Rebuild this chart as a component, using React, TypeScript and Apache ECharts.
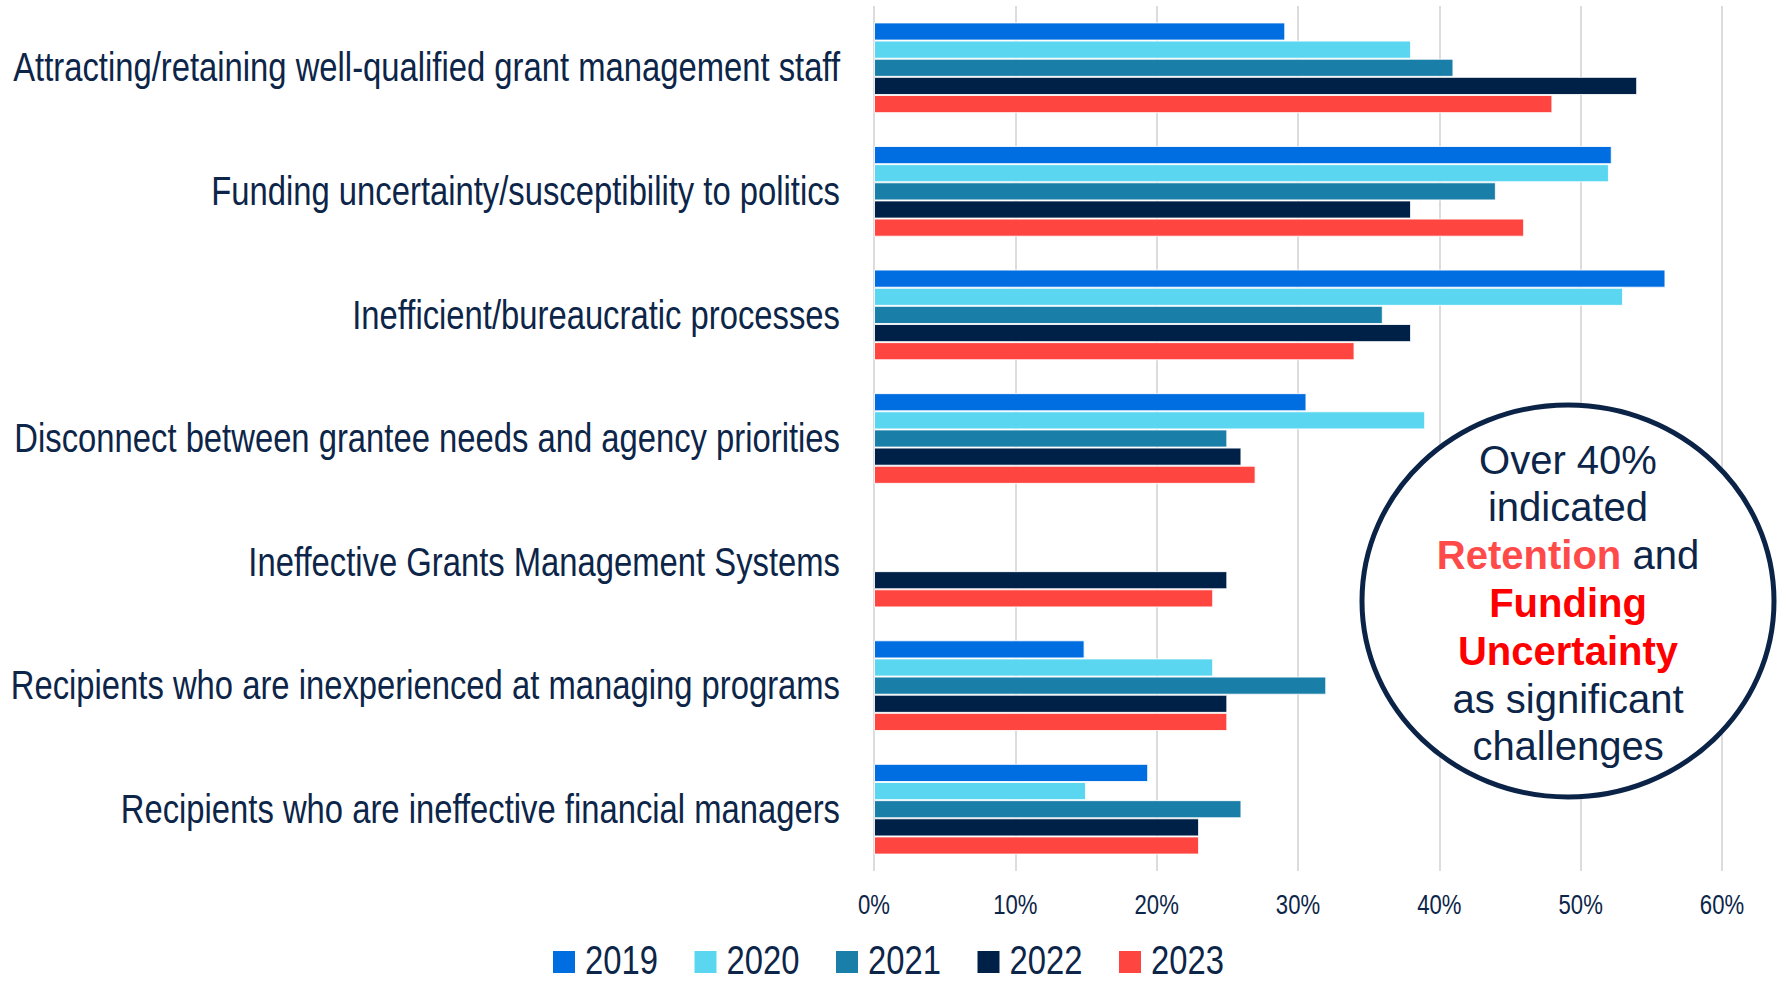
import React, { useEffect, useRef } from "react";
import * as echarts from "echarts";

const categories = [
  "Attracting/retaining well-qualified grant management staff",
  "Funding uncertainty/susceptibility to politics",
  "Inefficient/bureaucratic processes",
  "Disconnect between grantee needs and agency priorities",
  "Ineffective Grants Management Systems",
  "Recipients who are inexperienced at managing programs",
  "Recipients who are ineffective financial managers",
];

const years = ["2019", "2020", "2021", "2022", "2023"];

const v2019 = [29.1, 52.2, 56, 30.6, null, 14.9, 19.4];
const v2020 = [38, 52, 53, 39, null, 24, 15];
const v2021 = [41, 44, 36, 25, null, 32, 26];
const v2022 = [54, 38, 38, 26, 25, 25, 23];
const v2023 = [48, 46, 34, 27, 24, 25, 23];

const seriesValues = [v2019, v2020, v2021, v2022, v2023];
const colors = ["#006ee0", "#5bd6f0", "#1a7fa8", "#002147", "#ff4540"];

const xTicks = [0, 10, 20, 30, 40, 50, 60];
const xTickLabels = ["0%", "10%", "20%", "30%", "40%", "50%", "60%"];

const NAVY = "#0c2548";
const SANS = '"Liberation Sans", Arial, sans-serif';
const NARROW_SCALE = 0.82; // emulate Arial Narrow

export default function App() {
  const ref = useRef<HTMLDivElement>(null);

  useEffect(() => {
    if (!ref.current) return;
    const chart = echarts.init(ref.current, null, { renderer: "svg" });
    chart.setOption({
      animation: false,
      backgroundColor: "#ffffff",
      grid: {
        left: 874,
        right: 65,
        top: 6,
        bottom: 115,
        containLabel: false,
        outerBoundsMode: "none",
      },
      xAxis: {
        type: "value",
        min: xTicks[0],
        max: xTicks[xTicks.length - 1],
        interval: 10,
        axisLine: { show: false },
        axisTick: { show: false },
        axisLabel: { show: false },
        splitLine: { show: true, lineStyle: { color: "#dcdcdc", width: 2 } },
      },
      yAxis: {
        type: "category",
        inverse: true,
        data: categories,
        axisLine: { show: false },
        axisTick: { show: false },
        axisLabel: { show: false },
      },
      series: years.map((y, i) => ({
        name: y,
        type: "bar",
        data: seriesValues[i],
        barGap: "0%",
        barCategoryGap: "26.6%",
        itemStyle: {
          color: colors[i],
          borderColor: "rgba(255,255,255,0.85)",
          borderWidth: 1,
        },
      })),
    });

    const graphics: any[] = [];

    // category labels (narrow style)
    categories.forEach((c, i) => {
      const py = chart.convertToPixel({ yAxisIndex: 0 }, i) as number;
      graphics.push({
        type: "text",
        x: 840,
        y: py,
        scaleX: NARROW_SCALE,
        style: {
          text: c,
          fontFamily: SANS,
          fontSize: 40,
          fill: NAVY,
          align: "right",
          verticalAlign: "middle",
        },
      });
    });

    // x tick labels
    xTicks.forEach((t, i) => {
      const px = chart.convertToPixel({ xAxisIndex: 0 }, t) as number;
      graphics.push({
        type: "text",
        x: px,
        y: 905,
        scaleX: NARROW_SCALE,
        style: {
          text: xTickLabels[i],
          fontFamily: SANS,
          fontSize: 27,
          fill: NAVY,
          align: "center",
          verticalAlign: "middle",
        },
      });
    });

    // legend
    years.forEach((y, i) => {
      const lx = 553 + i * 141.5;
      graphics.push({
        type: "rect",
        shape: { x: lx, y: 951, width: 22, height: 22 },
        style: { fill: colors[i] },
      });
      graphics.push({
        type: "text",
        x: lx + 32,
        y: 960,
        scaleX: NARROW_SCALE,
        style: {
          text: y,
          fontFamily: SANS,
          fontSize: 40,
          fill: NAVY,
          align: "left",
          verticalAlign: "middle",
        },
      });
    });

    // annotation circle
    graphics.push({
      type: "ellipse",
      shape: { cx: 1568, cy: 601, rx: 206, ry: 196 },
      style: { fill: "#ffffff", stroke: "#0a2347", lineWidth: 5 },
      z: 100,
    });
    graphics.push({
      type: "text",
      x: 1568,
      y: 603,
      z: 101,
      style: {
        text:
          "Over 40%\nindicated\n{r|Retention} and\n{f|Funding}\n{f|Uncertainty}\nas significant\nchallenges",
        fontFamily: SANS,
        fontSize: 40,
        lineHeight: 47.8,
        fill: NAVY,
        align: "center",
        verticalAlign: "middle",
        rich: {
          r: {
            fontFamily: SANS,
            fontSize: 40,
            fontWeight: "bold",
            fill: "#ff4a4a",
            color: "#ff4a4a",
            lineHeight: 47.8,
          },
          f: {
            fontFamily: SANS,
            fontSize: 40,
            fontWeight: "bold",
            fill: "#ff0000",
            color: "#ff0000",
            lineHeight: 47.8,
          },
        },
      },
    });

    chart.setOption({ graphic: graphics });
    return () => chart.dispose();
  }, []);

  return (
    <div
      ref={ref}
      style={{ position: "fixed", left: 0, top: 0, width: 1787, height: 986 }}
    />
  );
}
